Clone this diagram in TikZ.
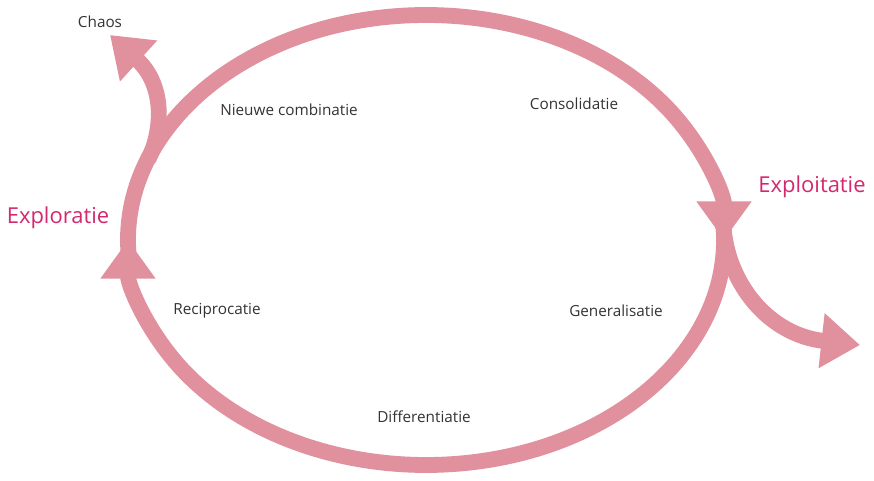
\documentclass[tikz,border=0pt]{standalone}
\usepackage{fontspec}
\setmainfont{Open Sans}
\usetikzlibrary{arrows.meta}
\definecolor{cyclepink}{RGB}{224,145,157}
\definecolor{phasered}{RGB}{212,40,110}
\definecolor{labelgrey}{RGB}{51,51,51}
\tikzstyle{ring}=[draw=cyclepink,line width=9pt,-{Triangle[length=22pt,width=30pt]}]
\tikzstyle{lbl}=[text=labelgrey,font=\fontsize{8.7}{11}\selectfont]
\tikzstyle{phase}=[text=phasered,font=\fontsize{12.5}{15}\selectfont]

\begin{document}
\begin{tikzpicture}[x=0.02cm,y=0.02cm]
  \useasboundingbox (0,0) rectangle (874,480);
  \coordinate (centre) at (426,240);
  % start points sit a little inside the opposite arrow heads
  \path (centre) ++(184:298 and 225) coordinate (west);
  \path (centre) ++(4:298 and 225) coordinate (east);
  \coordinate (fork) at (148,320);
  \coordinate (chaostip) at (110,445);
  \coordinate (outtip) at (860,135);
  \draw[ring] (west) arc[start angle=184, end angle=0, x radius=298, y radius=225];
  \draw[ring] (east) arc[start angle=4, end angle=-180, x radius=298, y radius=225];
  \draw[ring] (fork) .. controls (163,350) and (165,395) .. (chaostip);
  \draw[ring] (east) .. controls (727,195) and (770,145) .. (outtip);
  \node[lbl] (chaos) at (100,458) {Chaos};
  \node[lbl] (nieuw) at (289,370) {Nieuwe combinatie};
  \node[lbl] (consol) at (574,376) {Consolidatie};
  \node[phase] (exploit) at (812,293) {Exploitatie};
  \node[phase] (explor) at (58,262) {Exploratie};
  \node[lbl] (recip) at (217,169) {Reciprocatie};
  \node[lbl] (general) at (616,169) {Generalisatie};
  \node[lbl] (diff) at (424,63) {Differentiatie};
\end{tikzpicture}
\end{document}
